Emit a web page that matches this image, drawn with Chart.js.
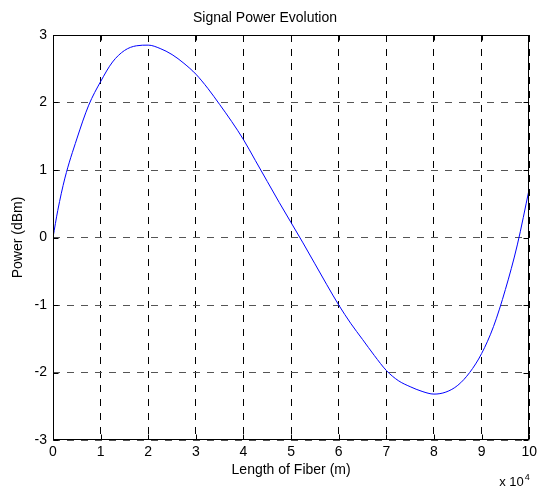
<!DOCTYPE html>
<html><head><meta charset="utf-8">
<script src="https://cdn.jsdelivr.net/npm/chart.js@4/dist/chart.umd.min.js"></script>
<style>html,body{margin:0;padding:0;background:#fff}#wrap{width:541px;height:489px}</style>
</head><body><div id="wrap"><canvas id="c" width="541" height="489"></canvas></div>
<script>
// Length of fiber, in units of 10^4 m
const fiberLength = [0, 0.1, 0.25, 0.5, 0.75, 1, 1.25, 1.5, 1.75, 2, 2.25, 2.5, 2.75, 3, 3.25, 3.5, 3.75, 4, 4.25, 4.5, 4.75, 5, 5.25, 5.5, 5.75, 6, 6.25, 6.5, 6.75, 7, 7.25, 7.5, 7.75, 8, 8.25, 8.5, 8.75, 9, 9.25, 9.5, 9.75, 10];
// Signal power, dBm
const powerDbm = [0, 0.4, 0.88, 1.46, 1.96, 2.31, 2.6, 2.77, 2.84, 2.85, 2.8, 2.71, 2.58, 2.42, 2.21, 1.97, 1.72, 1.45, 1.14, 0.83, 0.52, 0.22, -0.08, -0.39, -0.7, -1.0, -1.27, -1.51, -1.75, -1.97, -2.12, -2.21, -2.28, -2.32, -2.29, -2.19, -2.0, -1.72, -1.32, -0.77, -0.11, 0.72];
const xTickValues = [0, 1, 2, 3, 4, 5, 6, 7, 8, 9, 10];
const yTickValues = [-3, -2, -1, 0, 1, 2, 3];
const chartTitle = 'Signal Power Evolution';
const xTitle = 'Length of Fiber (m)';
const yTitle = 'Power (dBm)';
const xExponent = ['x 10', '4'];

const FONT = '"Liberation Sans", Arial, Helvetica, sans-serif';

const framePlugin = {
  id: 'frame',
  afterDraw(chart) {
    const {ctx, chartArea: a, scales: {x, y}} = chart;
    const L = Math.round(a.left) + 0.5, R = Math.round(a.right) - 0.5;
    const T = Math.round(a.top) + 0.5, B = Math.round(a.bottom) - 0.5;
    ctx.save();
    ctx.setLineDash([]);
    ctx.strokeStyle = '#000';
    ctx.lineWidth = 1;
    ctx.strokeRect(L, T, R - L, B - T);
    const tl = 5;
    ctx.beginPath();
    xTickValues.forEach(v => {
      const px = Math.round(x.getPixelForValue(v)) + 0.5;
      ctx.moveTo(px, B); ctx.lineTo(px, B - tl);
      ctx.moveTo(px, T); ctx.lineTo(px, T + tl);
    });
    yTickValues.forEach(v => {
      const py = Math.round(y.getPixelForValue(v)) + 0.5;
      ctx.moveTo(L, py); ctx.lineTo(L + tl, py);
      ctx.moveTo(R, py); ctx.lineTo(R - tl, py);
    });
    ctx.stroke();
    // exponent label
    ctx.fillStyle = '#000';
    ctx.textBaseline = 'alphabetic';
    ctx.textAlign = 'left';
    ctx.font = '13px ' + FONT;
    ctx.fillText(xExponent[0], a.right - 30, a.bottom + 46);
    const w = ctx.measureText(xExponent[0]).width;
    ctx.font = '9px ' + FONT;
    ctx.fillText(xExponent[1], a.right - 30 + w + 1, a.bottom + 40);
    ctx.restore();
  }
};

const points = fiberLength.map((v, i) => ({x: v, y: powerDbm[i]}));

new Chart(document.getElementById('c'), {
  type: 'line',
  data: {
    datasets: [{
      data: points,
      borderColor: '#0000ff',
      borderWidth: 1,
      pointRadius: 0,
      fill: false,
      cubicInterpolationMode: 'monotone'
    }]
  },
  options: {
    responsive: false,
    animation: false,
    devicePixelRatio: 1,
    layout: {padding: {left: 0, right: 11, top: 0, bottom: 0}},
    plugins: {
      legend: {display: false},
      tooltip: {enabled: false},
      title: {
        display: true,
        text: chartTitle,
        color: '#000',
        font: {family: FONT, size: 14, weight: 'normal'},
        padding: {top: 9.5, bottom: 8.7}
      }
    },
    scales: {
      x: {
        type: 'linear',
        min: 0, max: 10,
        afterFit: s => { s.height = 49; },
        afterBuildTicks: s => { s.ticks = xTickValues.map(v => ({value: v})); },
        ticks: {color: '#000', font: {family: FONT, size: 14}, padding: 4, maxRotation: 0, autoSkip: false},
        grid: {color: '#000', lineWidth: 1, drawTicks: false, tickLength: 0},
        border: {display: false, dash: [7, 7]},
        title: {display: true, text: xTitle, color: '#000', font: {family: FONT, size: 14}, padding: {top: 10.6, bottom: 10.6}}
      },
      y: {
        type: 'linear',
        min: -3, max: 3,
        afterFit: s => { s.width = 53; },
        afterBuildTicks: s => { s.ticks = yTickValues.map(v => ({value: v})); },
        ticks: {color: '#000', font: {family: FONT, size: 14}, padding: 6, autoSkip: false},
        grid: {color: '#555', lineWidth: 1, drawTicks: false, tickLength: 0},
        border: {display: false, dash: [7, 7]},
        title: {display: true, text: yTitle, color: '#000', font: {family: FONT, size: 14}, padding: {top: 9.6, bottom: 9.6}}
      }
    }
  },
  plugins: [framePlugin]
});
</script>
</body></html>
